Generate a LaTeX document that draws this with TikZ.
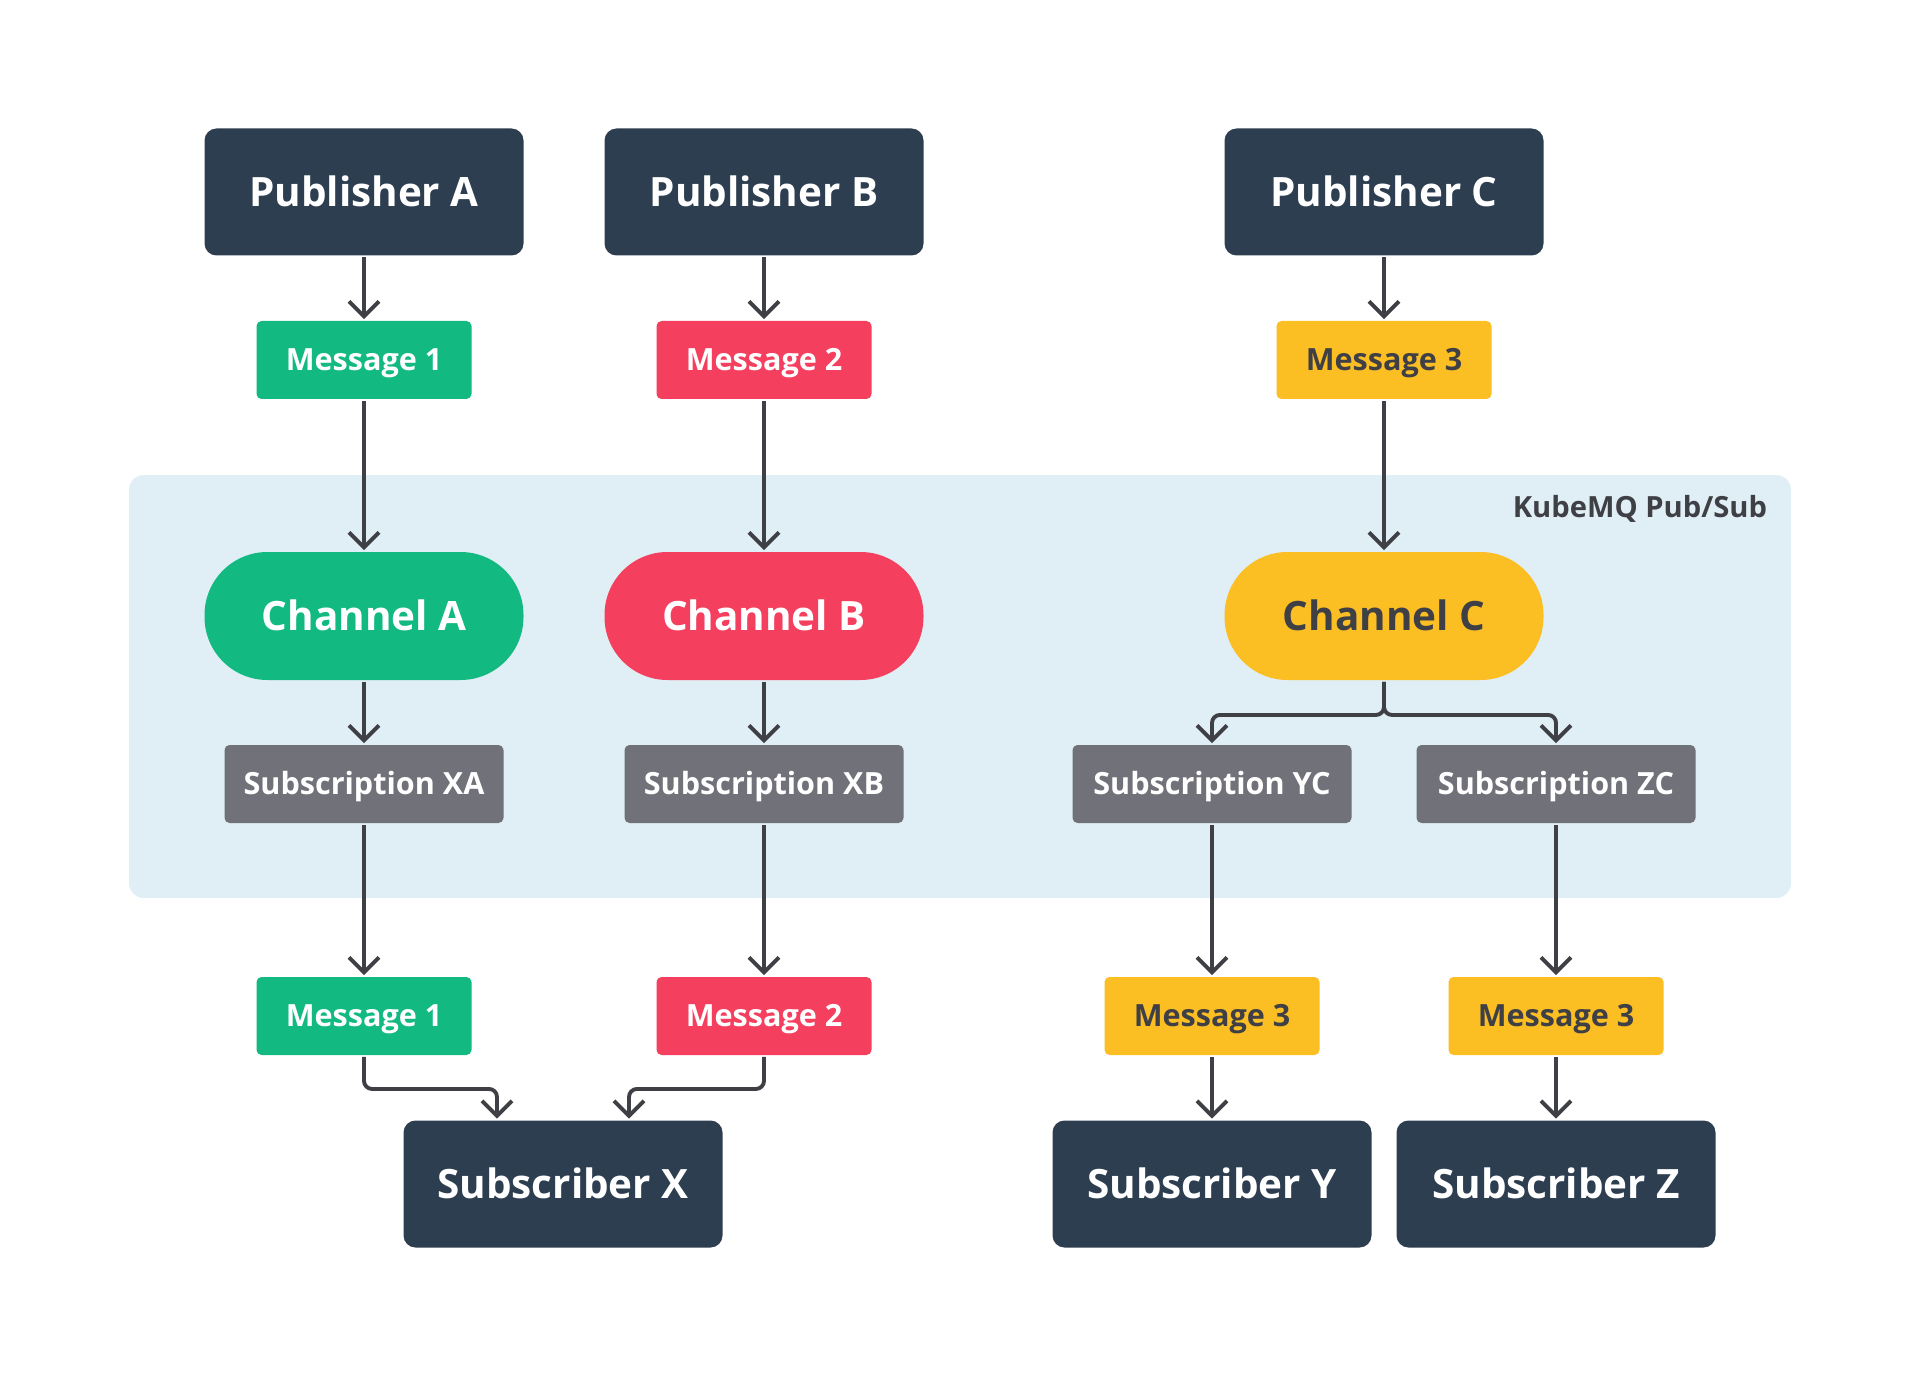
\documentclass[tikz,border=0pt]{standalone}
\usepackage{fontspec}
\setmainfont{Open Sans}
\usetikzlibrary{arrows.meta}
\definecolor{navy}{HTML}{2D3E50}
\definecolor{mqgreen}{HTML}{12B981}
\definecolor{mqred}{HTML}{F43F5E}
\definecolor{mqyellow}{HTML}{FBBF24}
\definecolor{mqgray}{HTML}{71717A}
\definecolor{mqbg}{HTML}{E0EEF5}
\definecolor{mqline}{HTML}{3F3F46}
\begin{document}
\begin{tikzpicture}[line width=1.1pt, font=\bfseries,
    pubbox/.style={fill=navy, text=white, rounded corners=0.12cm, minimum width=3.19cm, minimum height=1.27cm, text height=8.2pt, text depth=0pt, font=\bfseries\fontsize{11.5}{14}\selectfont},
    msgbox/.style={fill=#1, text=white, rounded corners=0.05cm, minimum width=2.15cm, minimum height=0.78cm, text height=6.2pt, text depth=0pt, font=\bfseries\fontsize{8.7}{11}\selectfont},
    chanbox/.style={fill=#1, text=white, rounded corners=0.63cm, minimum width=3.19cm, minimum height=1.28cm, text height=8.2pt, text depth=0pt, font=\bfseries\fontsize{11.5}{14}\selectfont},
    subsbox/.style={fill=mqgray, text=white, rounded corners=0.05cm, minimum width=2.79cm, minimum height=0.78cm, text height=6.2pt, text depth=0pt, font=\bfseries\fontsize{8.7}{11}\selectfont},
    arr/.style={draw=mqline, -{Straight Barb[length=0.15cm, width=0.3cm]}, rounded corners=0.08cm}]
    \useasboundingbox (0,0) rectangle (19.2,13.76);
    \fill[mqbg, rounded corners=0.15cm] (1.29,4.78) rectangle (17.91,9.01);
    \node[anchor=east, inner sep=0pt, text=mqline, font=\bfseries\fontsize{8.3}{10}\selectfont] (pubsub) at (17.69,8.67) {KubeMQ Pub/Sub};
    % publishers
    \node[pubbox] (puba) at (3.64,11.84) {Publisher A};
    \node[pubbox] (pubb) at (7.64,11.84) {Publisher B};
    \node[pubbox] (pubc) at (13.84,11.84) {Publisher C};
    % messages in
    \node[msgbox=mqgreen] (msga) at (3.64,10.16) {Message 1};
    \node[msgbox=mqred] (msgb) at (7.64,10.16) {Message 2};
    \node[msgbox=mqyellow, text=mqline] (msgc) at (13.84,10.16) {Message 3};
    % channels
    \node[chanbox=mqgreen] (chana) at (3.64,7.60) {Channel A};
    \node[chanbox=mqred] (chanb) at (7.64,7.60) {Channel B};
    \node[chanbox=mqyellow, text=mqline] (chanc) at (13.84,7.60) {Channel C};
    % subscriptions
    \node[subsbox] (subxa) at (3.64,5.92) {Subscription XA};
    \node[subsbox] (subxb) at (7.64,5.92) {Subscription XB};
    \node[subsbox] (subyc) at (12.12,5.92) {Subscription YC};
    \node[subsbox] (subzc) at (15.56,5.92) {Subscription ZC};
    % messages out
    \node[msgbox=mqgreen] (outa) at (3.64,3.60) {Message 1};
    \node[msgbox=mqred] (outb) at (7.64,3.60) {Message 2};
    \node[msgbox=mqyellow, text=mqline] (outy) at (12.12,3.60) {Message 3};
    \node[msgbox=mqyellow, text=mqline] (outz) at (15.56,3.60) {Message 3};
    % subscribers
    \node[pubbox] (subscx) at (5.63,1.92) {Subscriber X};
    \node[pubbox] (subscy) at (12.12,1.92) {Subscriber Y};
    \node[pubbox] (subscz) at (15.56,1.92) {Subscriber Z};
    % connectors
    \draw[arr] (puba) -- (msga);
    \draw[arr] (pubb) -- (msgb);
    \draw[arr] (pubc) -- (msgc);
    \draw[arr] (msga) -- (chana);
    \draw[arr] (msgb) -- (chanb);
    \draw[arr] (msgc) -- (chanc);
    \draw[arr] (chana) -- (subxa);
    \draw[arr] (chanb) -- (subxb);
    \draw[arr] (chanc.south) -- ++(0,-0.33) -| (subyc.north);
    \draw[arr] (chanc.south) -- ++(0,-0.33) -| (subzc.north);
    \draw[arr] (subxa) -- (outa);
    \draw[arr] (subxb) -- (outb);
    \draw[arr] (subyc) -- (outy);
    \draw[arr] (subzc) -- (outz);
    \draw[arr] (outa.south) -- ++(0,-0.32) -| ([xshift=-0.66cm]subscx.north);
    \draw[arr] (outb.south) -- ++(0,-0.32) -| ([xshift=0.66cm]subscx.north);
    \draw[arr] (outy) -- (subscy);
    \draw[arr] (outz) -- (subscz);
\end{tikzpicture}
\end{document}
